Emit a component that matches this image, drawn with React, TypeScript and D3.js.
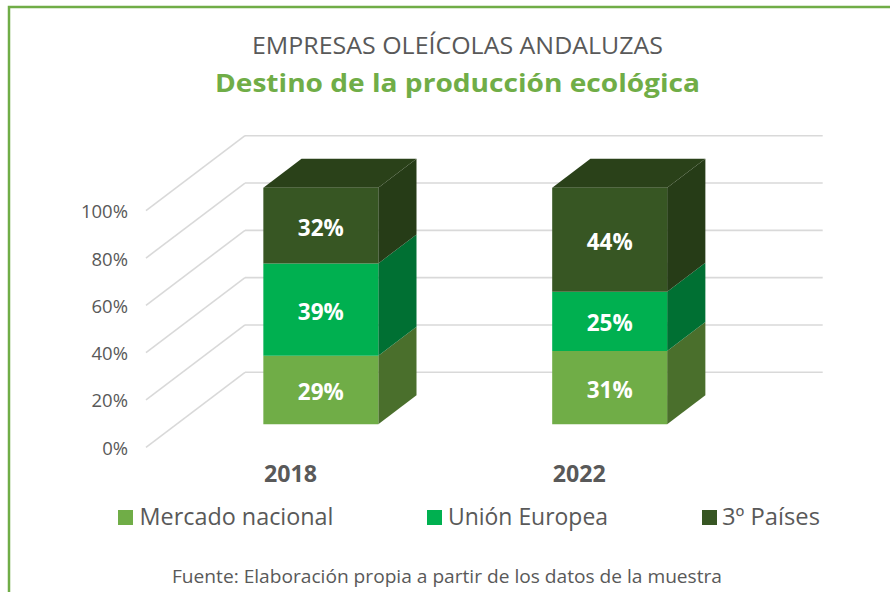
import React from "react";
import * as d3 from "d3";

// ---- data ----
const categories = ["2018", "2022"];
const seriesNames = ["Mercado nacional", "Unión Europea", "3º Países"];
const mercadoNacional = [29, 31];
const unionEuropea = [39, 25];
const tercerosPaises = [32, 44];
const tickValues = [0, 20, 40, 60, 80, 100];

// ---- styles / layout ----
const W = 890;
const H = 592;
const FONT = "'Open Sans', sans-serif";
const GRAY = "#595959";
const GREEN = "#70AD47";
const frontColors = ["#70AD47", "#00B050", "#375623"];
const sideColors = ["#4A6F2C", "#007033", "#263C17"];
const topColors = ["#507C32", "#00843A", "#2A4119"];
const DX = -99; // depth vector, back wall -> front
const DY = 75;
const Z_FRONT = 0.693;
const Z_BACK = 0.307;
const legendSquareX = [118, 427, 702];
const legendTextX = [139.5, 448, 722];
const legendTextW = [194, 160, 98];

export default function App() {
  const keys = ["m", "u", "t"];
  const rows = categories.map((c, i) => ({
    cat: c,
    m: mercadoNacional[i],
    u: unionEuropea[i],
    t: tercerosPaises[i],
  }));
  const series = d3.stack<any>().keys(keys)(rows);

  const y = d3.scaleLinear().domain([0, 100]).range([372.3, 135.7]);
  const x = d3
    .scaleBand<string>()
    .domain(categories)
    .range([245, 822.7])
    .paddingInner(0.602)
    .paddingOuter(0.301);
  const bw = x.bandwidth();
  const [x0r, x1r] = x.range();

  const P = (px: number, v: number, z: number): [number, number] => [
    px + DX * z,
    y(v) + DY * z,
  ];
  const poly = (pts: [number, number][]) =>
    "M" + pts.map((p) => p[0].toFixed(2) + "," + p[1].toFixed(2)).join("L") + "Z";

  return (
    <svg
      width={W}
      height={H}
      style={{ position: "absolute", left: 0, top: 0, background: "#fff" }}
      fontFamily={FONT}
    >
      <rect x={0} y={0} width={W} height={H} fill="#fff" />
      {/* frame */}
      <path d={`M9,${H} V7 H${W}`} fill="none" stroke={GREEN} strokeWidth={2.5} />

      {/* titles */}
      <text
        x={457.5}
        y={54.3}
        textAnchor="middle"
        fontSize={24.5}
        fill={GRAY}
        textLength={411}
        lengthAdjust="spacingAndGlyphs"
      >
        EMPRESAS OLEÍCOLAS ANDALUZAS
      </text>
      <text
        x={457.5}
        y={91.7}
        textAnchor="middle"
        fontSize={24.5}
        fontWeight="bold"
        fill={GREEN}
        textLength={485}
        lengthAdjust="spacingAndGlyphs"
      >
        Destino de la producción ecológica
      </text>

      {/* gridlines: back wall + side wall */}
      <g stroke="#D9D9D9" strokeWidth={1.6} fill="none">
        {tickValues.map((v) => {
          const a = P(x0r, v, 0);
          const b = P(x1r, v, 0);
          const f = P(x0r, v, 1);
          return (
            <g key={v}>
              <line x1={a[0]} y1={a[1]} x2={b[0]} y2={b[1]} />
              <line x1={a[0]} y1={a[1]} x2={f[0]} y2={f[1]} />
            </g>
          );
        })}
      </g>

      {/* tick labels */}
      {tickValues.map((v) => {
        const f = P(x0r, v, 1);
        return (
          <text
            key={v}
            x={128}
            y={f[1] + 7.5}
            textAnchor="end"
            fontSize={18.5}
            fill={GRAY}
          >
            {v + "%"}
          </text>
        );
      })}

      {/* bars */}
      {categories.map((c, ci) => {
        const bx0 = x(c)!;
        const bx1 = bx0 + bw;
        return (
          <g key={c}>
            {series.map((s, si) => {
              const [v0, v1] = [s[ci][0], s[ci][1]];
              const front = poly([
                P(bx0, v0, Z_FRONT),
                P(bx1, v0, Z_FRONT),
                P(bx1, v1, Z_FRONT),
                P(bx0, v1, Z_FRONT),
              ]);
              const side = poly([
                P(bx1, v0, Z_FRONT),
                P(bx1, v0, Z_BACK),
                P(bx1, v1, Z_BACK),
                P(bx1, v1, Z_FRONT),
              ]);
              const top = poly([
                P(bx0, v1, Z_FRONT),
                P(bx1, v1, Z_FRONT),
                P(bx1, v1, Z_BACK),
                P(bx0, v1, Z_BACK),
              ]);
              const cx = (bx0 + bx1) / 2 + DX * Z_FRONT;
              const cy = (y(v0) + y(v1)) / 2 + DY * Z_FRONT;
              return (
                <g key={si}>
                  <path d={side} fill={sideColors[si]} />
                  {si === series.length - 1 && <path d={top} fill={topColors[si]} />}
                  <path d={front} fill={frontColors[si]} />
                  <text
                    x={cx}
                    y={cy + 10}
                    textAnchor="middle"
                    fontSize={22.5}
                    fontWeight="bold"
                    fill="#fff"
                  >
                    {Math.round(v1 - v0) + "%"}
                  </text>
                </g>
              );
            })}
          </g>
        );
      })}

      {/* category labels (at front of floor) */}
      {categories.map((c) => {
        const p = P(x(c)! + bw / 2, 0, 1);
        return (
          <text
            key={c}
            x={p[0]}
            y={481.7}
            textAnchor="middle"
            fontSize={24}
            fontWeight="bold"
            fill={GRAY}
            textLength={53}
            lengthAdjust="spacingAndGlyphs"
          >
            {c}
          </text>
        );
      })}

      {/* legend */}
      {seriesNames.map((n, i) => (
        <g key={n}>
          <rect x={legendSquareX[i]} y={510} width={15} height={15} fill={frontColors[i]} />
          <text
            x={legendTextX[i]}
            y={525}
            fontSize={24}
            fill={GRAY}
            textLength={legendTextW[i]}
            lengthAdjust="spacingAndGlyphs"
          >
            {n}
          </text>
        </g>
      ))}

      {/* source */}
      <text
        x={447}
        y={583}
        textAnchor="middle"
        fontSize={17.5}
        fill={GRAY}
        textLength={550}
        lengthAdjust="spacingAndGlyphs"
      >
        Fuente: Elaboración propia a partir de los datos de la muestra
      </text>
    </svg>
  );
}
